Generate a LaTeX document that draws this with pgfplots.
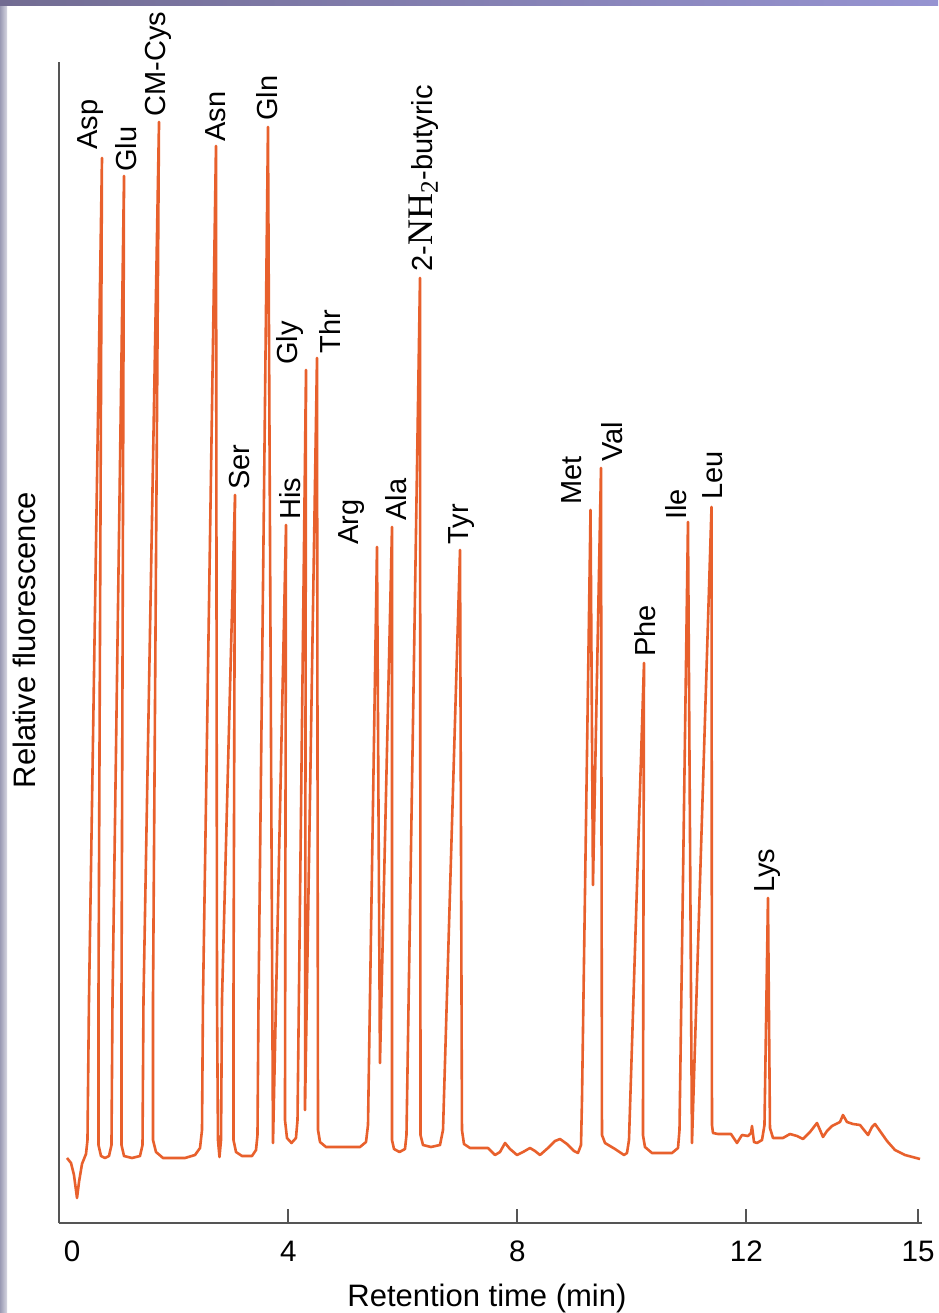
\documentclass[border=0pt]{standalone}
\usepackage{fontspec}
\setmainfont{Liberation Sans}
\newfontfamily\serif{Liberation Serif}
\usepackage{pgfplots}
\pgfplotsset{compat=1.18}

\definecolor{trace}{HTML}{E8602C}
\definecolor{axisgray}{HTML}{555555}
\definecolor{frametop}{HTML}{726C92}
\definecolor{frameleft}{HTML}{9A9AB4}
\tikzset{lbl/.style={rotate=90, anchor=west, inner sep=0pt, font=\fontsize{14.5}{17}\selectfont}}

\begin{document}
\begin{tikzpicture}
% page background and slide frame
\fill[white] (0,0) rectangle (469pt,656.5pt);
\fill[left color=frameleft, right color=frameleft!40!white] (0,0) rectangle (3.5pt,656.5pt);
\fill[left color=frametop, right color=frametop!70!blue!60!white] (0,653.5pt) rectangle (469pt,656.5pt);

\begin{axis}[
  x=28.63pt, y=0.5pt,
  anchor=origin, at={(29.6pt,45pt)},
  xmin=0, xmax=15.07, ymin=0, ymax=1161,
  clip=false,
  axis x line*=bottom, axis y line*=left,
  axis line style={-, draw=axisgray, line width=1pt},
  xtick={0,4,8,12,15},
  xticklabels={{\hspace{12.8pt}0},4,8,12,15},
  ytick=\empty,
  xtick align=inside,
  major tick length=7pt,
  tick style={draw=axisgray, line width=0.9pt},
  /pgf/number format/assume math mode=true,
  xticklabel style={font=\fontsize{14.8}{17}\selectfont, yshift=-5.5pt, text=black},
  xlabel={Retention time (min)},
  ylabel={Relative fluorescence},
  label style={font=\fontsize{15.5}{18}\selectfont},
  xlabel style={at={(axis description cs:0.4957,-0.0646)}, anchor=center},
  ylabel style={at={(axis description cs:-0.040,0.502)}, anchor=center},
]
\addplot[color=trace, line width=1.3pt, line join=round] table {
t y
0.136 65
0.206 60
0.258 48
0.311 25
0.346 41
0.398 59
0.468 69
0.494 83
0.520 223
0.747 1065
0.686 223
0.686 78
0.730 67
0.800 65
0.870 67
0.913 78
0.931 223
1.132 1047
1.088 223
1.088 78
1.132 67
1.271 65
1.411 67
1.455 78
1.472 223
1.743 1101
1.638 223
1.638 83
1.691 71
1.813 65
2.197 65
2.372 68
2.459 75
2.494 93
2.511 223
2.738 1077
2.756 223
2.773 83
2.799 66
2.826 83
2.843 223
3.070 728
3.044 223
3.044 83
3.088 71
3.192 67
3.367 67
3.437 73
3.463 88
3.481 223
3.646 1096
3.734 80
3.961 698
3.943 103
3.978 85
4.057 80
4.135 85
4.162 103
4.310 853
4.293 113
4.502 865
4.520 93
4.555 81
4.659 76
5.253 76
5.358 81
5.393 98
5.550 676
5.602 160
5.812 696
5.812 83
5.847 74
5.943 71
6.039 74
6.065 88
6.301 945
6.310 88
6.353 78
6.493 76
6.650 78
6.703 93
7.000 673
7.034 93
7.069 79
7.174 75
7.489 75
7.611 68
7.698 71
7.786 80
7.873 74
7.995 68
8.100 71
8.222 75
8.309 72
8.397 68
8.536 75
8.659 82
8.746 84
8.868 79
8.990 72
9.060 70
9.113 78
9.130 123
9.279 713
9.322 338
9.462 755
9.479 88
9.532 80
9.707 74
9.864 68
9.916 70
9.951 83
10.213 560
10.195 88
10.230 76
10.352 70
10.702 70
10.807 75
10.833 93
10.981 701
11.051 80
11.392 716
11.400 98
11.418 90
11.505 89
11.732 89
11.837 80
11.924 88
12.029 87
12.082 90
12.099 97
12.134 81
12.186 80
12.274 83
12.317 98
12.378 325
12.413 95
12.466 85
12.640 85
12.762 89
12.885 87
12.990 84
13.112 91
13.234 100
13.287 93
13.339 86
13.409 92
13.496 97
13.636 101
13.688 108
13.758 101
13.863 99
13.985 98
14.055 93
14.126 88
14.195 96
14.248 99
14.334 92
14.457 82
14.596 73
14.771 68
15.033 64
};
% peak names
\node[lbl] at (axis cs:0.555,1073) {Asp};
\node[lbl] at (axis cs:1.167,1051) {Glu};
\node[lbl] at (axis cs:1.734,1106) {CM-Cys};
\node[lbl] at (axis cs:2.738,1081) {Asn};
\node[lbl] at (axis cs:3.157,733) {Ser};
\node[lbl] at (axis cs:3.629,1102) {Gln};
\node[lbl] at (axis cs:4.031,703) {His};
\node[lbl] at (axis cs:4.031,858) {Gly};
\node[lbl] at (axis cs:4.729,869) {Thr};
\node[lbl] at (axis cs:5.113,678) {Arg};
\node[lbl] at (axis cs:5.882,702) {Ala};
\node[lbl] at (axis cs:6.371,951) {2-{\serif\fontsize{18}{20}\selectfont NH\textsubscript{2}}-butyric};
\node[lbl] at (axis cs:7.034,678) {Tyr};
\node[lbl] at (axis cs:8.956,718) {Met};
\node[lbl] at (axis cs:9.654,761) {Val};
\node[lbl] at (axis cs:10.230,566) {Phe};
\node[lbl] at (axis cs:10.772,703) {Ile};
\node[lbl] at (axis cs:11.418,723) {Leu};
\node[lbl] at (axis cs:12.378,330) {Lys};
\end{axis}
\pgfresetboundingbox
\path[use as bounding box] (0,0) rectangle (469pt,656.5pt);
\end{tikzpicture}
\end{document}
